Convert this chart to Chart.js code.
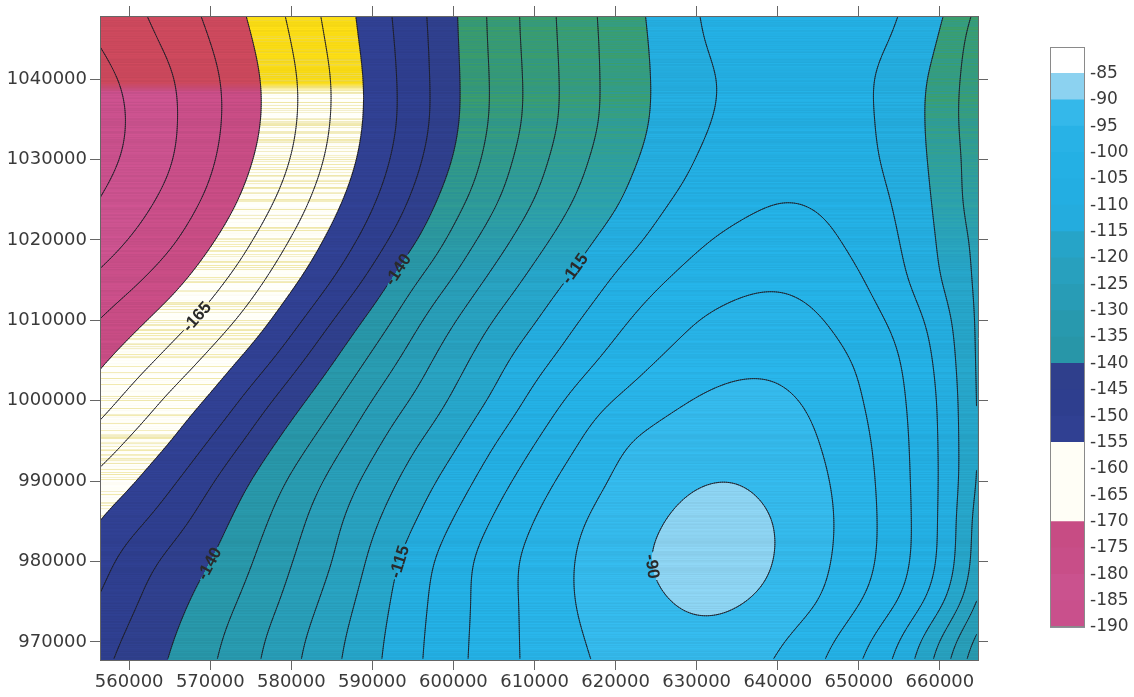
<!DOCTYPE html>
<html><head><meta charset="utf-8">
<script src="https://cdn.jsdelivr.net/npm/chart.js@4.4.1/dist/chart.umd.min.js"></script>
<style>
html,body{margin:0;padding:0;background:#fff;}
#wrap{position:relative;width:1134px;height:697px;overflow:hidden;}
#main{position:absolute;left:0;top:0;}
#cbar{position:absolute;left:1000px;top:0;}
</style></head><body>
<div id="wrap">
<canvas id="main" width="1000" height="697"></canvas>
<canvas id="cbar" width="134" height="697"></canvas>
</div>
<script>
// ---- grid coordinates (easting / northing) ----
const gridX = [555000,560000,565000,570000,575000,580000,585000,590000,595000,600000,605000,610000,615000,620000,625000,630000,635000,640000,645000,650000,655000,660000,665000];
const gridY = [1050000,1045000,1040000,1035000,1030000,1025000,1020000,1015000,1010000,1005000,1000000,995000,990000,985000,980000,975000,970000,965000];
const z1050000 = [-183.5,-181,-177.4,-173.5,-169,-163.7,-158,-152.4,-147,-140.8,-133.4,-127.9,-122.2,-117.9,-113.7,-109.6,-108.2,-107.5,-107.6,-108.3,-109.2,-113.2,-120.6];
const z1045000 = [-185.5,-182.3,-179,-175,-170.3,-165,-158.9,-152.9,-147.5,-141,-133.6,-128,-122.6,-118.1,-114.3,-110,-108.3,-107.6,-107.8,-108.6,-110,-114.8,-123.5];
const z1040000 = [-187.5,-184.3,-180.8,-176.4,-171.4,-166.1,-160,-153.6,-147.7,-141.3,-134,-128.4,-122.8,-118.2,-114.5,-111.2,-109,-108,-108.1,-109,-111.8,-116.6,-123.5];
const z1035000 = [-188.5,-184.9,-181,-176.6,-171.5,-166.1,-159.9,-153.6,-147.9,-141.3,-134,-128.4,-122.8,-118.2,-114.5,-110.8,-108.8,-107.5,-107.6,-108.6,-112,-116.7,-124];
const z1030000 = [-188,-184.3,-180.7,-176,-170.4,-165.1,-158.9,-152.7,-146.8,-140,-132.7,-127,-121.4,-117.2,-113.5,-109.6,-107.8,-106.5,-106.8,-108.3,-111.7,-116.4,-123];
const z1025000 = [-186,-182.3,-179,-174.2,-168.3,-163,-156.7,-150.8,-144.7,-137.1,-130.9,-125,-119.7,-116,-111.1,-108.2,-106.5,-105.1,-105.4,-107.3,-110.5,-116.1,-123.3];
const z1020000 = [-183.5,-180.1,-176.5,-170.7,-165.3,-159.9,-153.8,-148,-141.1,-133.5,-127.5,-121.6,-117.2,-112.8,-108.7,-105.7,-103.7,-102.6,-103.5,-106.4,-109.6,-115.6,-121.6];
const z1015000 = [-180,-176.6,-172.1,-166.8,-162.2,-156.4,-150.3,-143.7,-135.5,-129.7,-123.4,-118.4,-114.2,-109,-105.7,-103,-101.2,-100.6,-101.6,-104.3,-108.7,-115,-121.4];
const z1010000 = [-176,-171.8,-167.5,-163.3,-158.3,-151.8,-145.2,-138.3,-131.3,-125.2,-119.5,-115.5,-110.3,-106.1,-102.7,-99.7,-98.3,-97.7,-99.4,-102.5,-106.1,-112,-121.3];
const z1005000 = [-172,-167.7,-163.5,-158.8,-153.3,-147,-140.5,-133.7,-127.8,-121.8,-116.8,-111.9,-107.3,-103.3,-99.9,-97.8,-96.3,-96,-97.5,-100.3,-104.4,-110.7,-121.3];
const z1000000 = [-168.5,-163.7,-158.9,-154.4,-148.1,-142.1,-136,-129.6,-124.6,-119.2,-114.4,-108.4,-103.5,-99.6,-97,-94.5,-93.2,-93.8,-96,-99.4,-103.9,-109.7,-121.1];
const z995000  = [-164,-159.5,-155.5,-149.7,-143.9,-137.8,-132,-126.4,-120.7,-116.3,-110.2,-105.1,-100.6,-95.5,-93.2,-91.6,-90.8,-91.5,-94.9,-98.3,-103.5,-109.5,-121];
const z990000  = [-159.5,-156,-151,-145.4,-139.8,-134,-128.7,-123.1,-118,-112.8,-107,-102.3,-97.6,-94.2,-92.1,-90.3,-90.2,-91.3,-93.8,-97.6,-103.3,-109.4,-121];
const z985000  = [-156,-151.9,-147.2,-142.4,-137.2,-131.8,-126.4,-120.8,-115.5,-109.6,-104.3,-99.7,-95.4,-92.9,-90.4,-87.9,-87.7,-90,-93.3,-97.3,-103,-109.4,-123];
const z980000  = [-153.5,-147.7,-143.5,-140.2,-135.3,-130.1,-125.4,-118.8,-112.6,-107,-102.2,-98.2,-94.7,-92,-89.3,-87,-87.2,-90,-93.6,-97.6,-103,-109.5,-123];
const z975000  = [-151,-145.8,-141.9,-137.9,-133.5,-128.6,-123.2,-117.5,-111.7,-106.9,-102.5,-98.4,-94.6,-92.8,-90.6,-88.7,-89.3,-91.4,-94.4,-99.3,-104.3,-112.2,-125.5];
const z970000  = [-148,-144,-140.3,-136.2,-131.6,-126.5,-121.5,-116.4,-111.2,-106.6,-102.3,-98.6,-95.4,-93.6,-92.2,-91.5,-92,-94.5,-98.3,-103.4,-110,-120.8,-133];
const z965000  = [-146.5,-142.8,-139.3,-135.3,-130.8,-125.8,-120.8,-115.9,-110.9,-106.4,-102.2,-98.8,-95.9,-94.3,-93.3,-93,-93.6,-96,-100,-105.5,-112,-123,-136];
const zRows = [z1050000,z1045000,z1040000,z1035000,z1030000,z1025000,z1020000,z1015000,z1010000,z1005000,z1000000,z995000,z990000,z985000,z980000,z975000,z970000,z965000];

// ---- axes ----
const xTicks = [560000,570000,580000,590000,600000,610000,620000,630000,640000,650000,660000];
const yTicks = [970000,980000,990000,1000000,1010000,1020000,1030000,1040000];
const xRange = [556400, 664700];
const yRange = [967750, 1047850];

// ---- colour classes (band edges) and contour levels ----
const bandEdges = [-190,-185,-180,-175,-170,-165,-160,-155,-150,-145,-140,-135,-130,-125,-120,-115,-110,-105,-100,-95,-90,-85,-80];
const contourLevels = [-185,-180,-175,-170,-165,-160,-155,-150,-145,-140,-135,-130,-125,-120,-115,-110,-105,-100,-95,-90];
const colorbarTicks = [-85,-90,-95,-100,-105,-110,-115,-120,-125,-130,-135,-140,-145,-150,-155,-160,-165,-170,-175,-180,-185,-190];
const contourLabels = [
  {level:-165, x:569400, y:1009400},
  {level:-140, x:593400, y:1016200},
  {level:-115, x:615400, y:1016200},
  {level:-140, x:570400, y:979500},
  {level:-115, x:593100, y:980100},
  {level:-90,  x:624900, y:979500}
];

// ---- styles ----
const bandRGB = [
  [201,80,140],[202,82,142],[200,78,136],[199,76,132],
  [255,254,246],[255,254,246],[255,254,246],
  [48,64,146],[46,62,142],[47,63,140],
  [40,150,168],[40,153,174],[40,156,182],[40,160,190],[38,164,200],
  [36,172,222],[35,174,226],[36,176,228],[40,178,230],[52,184,234],
  [140,210,240],[255,255,255]
];
const warmTop = {pink:[203,72,92], white:[248,218,20]};
const greenTop = [60,154,96];
const rgb = a => `rgb(${a[0]},${a[1]},${a[2]})`;
const FONT = '"DejaVu Sans", sans-serif';
const TXT = '#3a3a3a';

// ---- smooth surface through the read grid (cubic B-spline, linear extension at the edges) ----
const NX = gridX.length, NY = gridY.length;
function zAt(i,j){
  if (i<0) return 2*zAt(0,j)-zAt(-i,j);
  if (i>=NX) return 2*zAt(NX-1,j)-zAt(2*(NX-1)-i,j);
  if (j<0) return 2*zAt(i,0)-zAt(i,-j);
  if (j>=NY) return 2*zAt(i,NY-1)-zAt(i,2*(NY-1)-j);
  return zRows[j][i];
}
function bs(p0,p1,p2,p3,t){
  const t2=t*t, t3=t2*t;
  return ((1-t)*(1-t)*(1-t)*p0 + (3*t3-6*t2+4)*p1 + (-3*t3+3*t2+3*t+1)*p2 + t3*p3)/6;
}
function field(x,y){
  const fx = (x-gridX[0])/(gridX[1]-gridX[0]);
  const fy = (y-gridY[0])/(gridY[1]-gridY[0]);
  const i = Math.floor(fx), j = Math.floor(fy), tx = fx-i, ty = fy-j;
  const r = [];
  for (let m=-1;m<=2;m++) r.push(bs(zAt(i-1,j+m),zAt(i,j+m),zAt(i+1,j+m),zAt(i+2,j+m),tx));
  return bs(r[0],r[1],r[2],r[3],ty);
}
function bandOf(v){
  let k = 0;
  while (k < bandEdges.length-2 && v >= bandEdges[k+1]) k++;
  return k;
}
const mix = (a,b,t) => [a[0]+(b[0]-a[0])*t, a[1]+(b[1]-a[1])*t, a[2]+(b[2]-a[2])*t];
const hash = n => { const s = Math.sin(n*78.233)*43758.5453; return s - Math.floor(s); };

const contourPlugin = {
  id: 'contourPlugin',
  beforeDraw(chart){
    const {ctx, chartArea:a} = chart;
    const xs = chart.scales.x, ys = chart.scales.y;
    const W = Math.round(a.right-a.left), H = Math.round(a.bottom-a.top);
    if (!chart.$cache){
      const F = new Float32Array(W*H);
      const xv = new Float64Array(W);
      for (let i=0;i<W;i++) xv[i] = xs.getValueForPixel(a.left+i+0.5);
      const off = document.createElement('canvas'); off.width=W; off.height=H;
      const octx = off.getContext('2d'); const img = octx.createImageData(W,H); const d = img.data;
      for (let j=0;j<H;j++){
        const yv = ys.getValueForPixel(a.top+j+0.5);
        const wWarm = Math.max(0, Math.min(1, (76-j)/10));
        const wGreen = j<66 ? 1 : Math.max(0, 1-(j-66)/190);
        const h = hash(j+a.top), h2 = hash(j*3.1+7);
        for (let i=0;i<W;i++){
          const v = field(xv[i], yv); F[j*W+i] = v;
          const k = bandOf(v);
          let c = bandRGB[k];
          if (k<=3) c = mix(c, warmTop.pink, wWarm);
          else if (k<=6){
            c = mix(c, warmTop.white, wWarm);
            if (h < 0.3) c = mix(c, [238,224,120], 0.25+0.35*h2);
          } else if (k>=10 && k<=14){
            const g = wGreen*(0.75+0.5*(h-0.5));
            c = mix(c, greenTop, Math.max(0,Math.min(1,g)));
          }
          const f = 1 + (h-0.5)*0.06;
          const p = (j*W+i)*4;
          d[p] = Math.min(255,c[0]*f); d[p+1] = Math.min(255,c[1]*f); d[p+2] = Math.min(255,c[2]*f); d[p+3] = 255;
        }
      }
      octx.putImageData(img,0,0);
      // contour segments via marching squares on the sampled surface
      const s = 2;
      const C = Math.floor((W-1)/s)+1, R = Math.floor((H-1)/s)+1;
      const px = [], py = [];
      for (let c=0;c<C;c++) px.push(a.left + c*s + 0.5);
      for (let r=0;r<R;r++) py.push(a.top + r*s + 0.5);
      const S = (r,c) => F[(r*s)*W + c*s];
      const segsByLevel = {};
      for (const L of contourLevels){
        const segs = [];
        for (let r=0;r<R-1;r++) for (let c=0;c<C-1;c++){
          const v0=S(r,c), v1=S(r,c+1), v2=S(r+1,c+1), v3=S(r+1,c);
          const idx = (v0>=L?8:0)|(v1>=L?4:0)|(v2>=L?2:0)|(v3>=L?1:0);
          if (idx===0||idx===15) continue;
          const x0=px[c], x1=px[c+1], y0=py[r], y1=py[r+1];
          const T = () => [x0+(L-v0)/(v1-v0)*(x1-x0), y0];
          const Rt = () => [x1, y0+(L-v1)/(v2-v1)*(y1-y0)];
          const B = () => [x0+(L-v3)/(v2-v3)*(x1-x0), y1];
          const Lf = () => [x0, y0+(L-v0)/(v3-v0)*(y1-y0)];
          const ctr = (v0+v1+v2+v3)/4;
          switch(idx){
            case 1: case 14: segs.push([Lf(),B()]); break;
            case 2: case 13: segs.push([B(),Rt()]); break;
            case 3: case 12: segs.push([Lf(),Rt()]); break;
            case 4: case 11: segs.push([T(),Rt()]); break;
            case 6: case 9: segs.push([T(),B()]); break;
            case 7: case 8: segs.push([Lf(),T()]); break;
            case 5: if (ctr>=L){segs.push([Lf(),T()]);segs.push([B(),Rt()]);} else {segs.push([T(),Rt()]);segs.push([Lf(),B()]);} break;
            case 10: if (ctr>=L){segs.push([T(),Rt()]);segs.push([Lf(),B()]);} else {segs.push([Lf(),T()]);segs.push([B(),Rt()]);} break;
          }
        }
        segsByLevel[L] = segs;
      }
      // label placement along the contours
      ctx.save(); ctx.font = 'bold 17px "Liberation Sans", sans-serif';
      const labels = contourLabels.map(lb => {
        const ax = xs.getPixelForValue(lb.x), ay = ys.getPixelForValue(lb.y);
        let best = null, bd = Infinity;
        for (const sg of segsByLevel[lb.level]){
          const mx=(sg[0][0]+sg[1][0])/2, my=(sg[0][1]+sg[1][1])/2;
          const dd=(mx-ax)*(mx-ax)+(my-ay)*(my-ay);
          if (dd<bd){bd=dd;best=sg;}
        }
        if (!best) return null;
        // direction from nearby segments for a steadier angle
        const cx=(best[0][0]+best[1][0])/2, cy=(best[0][1]+best[1][1])/2;
        let sx=0, sy=0;
        for (const sg of segsByLevel[lb.level]){
          const mx=(sg[0][0]+sg[1][0])/2, my=(sg[0][1]+sg[1][1])/2;
          if ((mx-cx)*(mx-cx)+(my-cy)*(my-cy) < 144){
            let dx=sg[1][0]-sg[0][0], dy=sg[1][1]-sg[0][1];
            if (dx*(best[1][0]-best[0][0])+dy*(best[1][1]-best[0][1]) < 0){dx=-dx;dy=-dy;}
            sx+=dx; sy+=dy;
          }
        }
        let ang = Math.atan2(sy, sx);
        if (ang >= Math.PI/2) ang -= Math.PI;
        if (ang < -Math.PI/2) ang += Math.PI;
        const text = String(lb.level);
        return {x:cx, y:cy, ang, text, w: ctx.measureText(text).width};
      }).filter(Boolean);
      ctx.restore();
      chart.$cache = {off, segsByLevel, labels};
    }
    const {off, segsByLevel, labels} = chart.$cache;
    ctx.drawImage(off, a.left, a.top);
    ctx.save();
    ctx.beginPath();
    ctx.rect(a.left, a.top, a.right-a.left, a.bottom-a.top);
    for (const lb of labels){
      const hw = lb.w/2+2, hh = 8, co = Math.cos(lb.ang), si = Math.sin(lb.ang);
      const pts = [[-hw,-hh],[hw,-hh],[hw,hh],[-hw,hh]].map(([u,v]) => [lb.x+u*co-v*si, lb.y+u*si+v*co]);
      ctx.moveTo(pts[0][0],pts[0][1]); for (let q=1;q<4;q++) ctx.lineTo(pts[q][0],pts[q][1]); ctx.closePath();
    }
    ctx.clip('evenodd');
    ctx.strokeStyle = 'rgba(30,30,40,0.85)';
    ctx.lineWidth = 1; ctx.lineCap = 'round';
    for (const L of contourLevels){
      ctx.beginPath();
      for (const sg of segsByLevel[L]){ ctx.moveTo(sg[0][0],sg[0][1]); ctx.lineTo(sg[1][0],sg[1][1]); }
      ctx.stroke();
    }
    ctx.restore();
    ctx.save();
    ctx.font = 'bold 17px "Liberation Sans", sans-serif';
    ctx.fillStyle = '#2a2a2a'; ctx.textAlign = 'center'; ctx.textBaseline = 'middle';
    for (const lb of labels){
      ctx.save(); ctx.translate(lb.x, lb.y); ctx.rotate(lb.ang); ctx.fillText(lb.text, 0, 1); ctx.restore();
    }
    ctx.restore();
  }
};

const tickFont = {family: FONT, size: 18};
const gridOpt = {drawOnChartArea:false, drawTicks:true, tickLength:10, tickColor:'#666', color:'#666'};
const borderOpt = {color:'#666', width:1};

new Chart(document.getElementById('main'), {
  type: 'scatter',
  data: {datasets: [{data: [], pointRadius: 0}]},
  options: {
    responsive: false, animation: false, events: [],
    layout: {padding: 0},
    plugins: {legend: {display:false}, tooltip: {enabled:false}},
    scales: {
      x: {type:'linear', position:'bottom', min:xRange[0], max:xRange[1],
          afterBuildTicks: s => { s.ticks = xTicks.map(v => ({value:v})); },
          afterFit: s => { s.height = 37; },
          ticks: {font: tickFont, color: TXT, padding: 2, maxRotation: 0, autoSkip: false, callback: v => String(v)},
          grid: gridOpt, border: borderOpt},
      x2: {type:'linear', position:'top', min:xRange[0], max:xRange[1],
          afterBuildTicks: s => { s.ticks = xTicks.map(v => ({value:v})); },
          afterFit: s => { s.height = 16; },
          ticks: {display:false}, grid: gridOpt, border: borderOpt},
      y: {type:'linear', position:'left', min:yRange[0], max:yRange[1],
          afterBuildTicks: s => { s.ticks = yTicks.map(v => ({value:v})); },
          afterFit: s => { s.width = 100; },
          ticks: {font: tickFont, color: TXT, padding: 3, autoSkip: false, callback: v => String(v)},
          grid: gridOpt, border: borderOpt},
      y2: {type:'linear', position:'right', min:yRange[0], max:yRange[1],
          afterBuildTicks: s => { s.ticks = yTicks.map(v => ({value:v})); },
          afterFit: s => { s.width = 22; },
          ticks: {display:false}, grid: gridOpt, border: borderOpt}
    }
  },
  plugins: [contourPlugin]
});

// ---- colour bar ----
const cbOutline = {
  id: 'cbOutline',
  afterDraw(chart){
    const {ctx, chartArea:a} = chart;
    ctx.save(); ctx.strokeStyle = '#8a8a8a'; ctx.lineWidth = 1;
    ctx.strokeRect(Math.round(a.left)+0.5, Math.round(a.top)+0.5, Math.round(a.right-a.left)-1, Math.round(a.bottom-a.top)-1);
    ctx.restore();
  }
};
new Chart(document.getElementById('cbar'), {
  type: 'bar',
  data: {
    labels: [''],
    datasets: bandRGB.map((c,k) => ({
      data: [[bandEdges[k], bandEdges[k+1]]],
      backgroundColor: rgb(c), borderWidth: 0, grouped: false,
      barPercentage: 1, categoryPercentage: 1
    }))
  },
  options: {
    responsive: false, animation: false, events: [],
    layout: {padding: {left: 50, top: 47, bottom: 70, right: 0}},
    plugins: {legend: {display:false}, tooltip: {enabled:false}},
    scales: {
      x: {display: false},
      y: {position:'right', min: bandEdges[0], max: bandEdges[bandEdges.length-1], z: 1,
          afterBuildTicks: s => { s.ticks = colorbarTicks.map(v => ({value:v})); },
          afterFit: s => { s.width = 49; },
          ticks: {font: {family: FONT, size: 17}, color: TXT, padding: 5, autoSkip: false},
          grid: {drawTicks: false, color: 'rgba(30,30,50,0.5)', lineWidth: 1},
          border: {display: false}}
    }
  },
  plugins: [cbOutline]
});
</script>
</body></html>
